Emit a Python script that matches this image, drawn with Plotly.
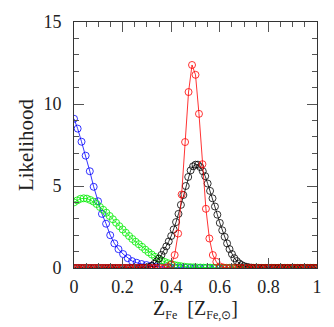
import plotly.graph_objects as go

# ---------------- data ----------------
blue_x = [0.0, 0.015, 0.031, 0.048, 0.065, 0.081, 0.099, 0.115, 0.132, 0.149, 0.166, 0.183,
          0.202, 0.221, 0.239, 0.258, 0.278, 0.298, 0.318, 0.338, 0.358, 0.378, 0.398, 0.418,
          0.438, 0.458, 0.478, 0.498, 0.518, 0.538, 0.558, 0.578, 0.598, 0.618, 0.638, 0.658,
          0.678, 0.698, 0.718, 0.738, 0.758, 0.778, 0.798, 0.818, 0.838, 0.858, 0.878, 0.898,
          0.918, 0.938, 0.958, 0.978, 0.998]
blue_y = [9.1, 8.5, 7.7, 6.85, 5.9, 4.95, 4.07, 3.3, 2.7, 2.0, 1.5, 1.15,
          0.85, 0.6, 0.42, 0.32, 0.24, 0.18, 0.13, 0.09, 0.06, 0.04, 0.03, 0.02,
          0.01, 0.01, 0.0, 0.0, 0.0, 0.0, 0.0, 0.0, 0.0, 0.0, 0.0, 0.0,
          0.0, 0.0, 0.0, 0.0, 0.0, 0.0, 0.0, 0.0, 0.0, 0.0, 0.0, 0.0,
          0.0, 0.0, 0.0, 0.0, 0.0]

green_x = [round(i / 75, 4) for i in range(76)]
green_y = [4.00, 4.12, 4.22, 4.25, 4.23, 4.15, 4.05, 3.90, 3.72, 3.55,
           3.37, 3.17, 2.97, 2.76, 2.55, 2.35, 2.15, 1.95, 1.77, 1.60,
           1.45, 1.29, 1.12, 0.96, 0.82, 0.68, 0.56, 0.46, 0.37, 0.29,
           0.23, 0.18, 0.14, 0.11, 0.08, 0.06, 0.05, 0.04, 0.03, 0.03,
           0.02, 0.02, 0.02, 0.02, 0.01, 0.01, 0.01, 0.01, 0.01, 0.01,
           0.01, 0.01, 0.01, 0.01, 0.01, 0.01, 0.01, 0.01, 0.01, 0.01,
           0.01, 0.01, 0.01, 0.01, 0.01, 0.01, 0.01, 0.01, 0.01, 0.01,
           0.01, 0.01, 0.01, 0.01, 0.01, 0.01]

black_x = [round(i * 0.01, 2) for i in range(101)]
black_y = [0.0] * 28 + [
    0.01, 0.02, 0.03, 0.06, 0.12, 0.25, 0.40, 0.58, 0.80, 1.05,
    1.32, 1.62, 1.95, 2.35, 2.80, 3.30, 3.85, 4.45, 5.00, 5.55,
    5.95, 6.20, 6.30, 6.30, 6.15, 5.90, 5.60, 5.15, 4.70, 4.25,
    3.75, 3.25, 2.75, 2.30, 1.90, 1.50, 1.15, 0.85, 0.60, 0.42,
    0.28, 0.18, 0.11, 0.07, 0.04, 0.02, 0.01] + [0.0] * 26

red_x = [round(i / 70, 4) for i in range(71)]
red_y = [0.0] * 27 + [
    0.05, 0.2, 0.79, 2.10, 4.48, 7.68, 10.73, 12.38, 11.78, 9.40,
    6.33, 3.61, 1.80, 0.79, 0.38, 0.10, 0.03] + [0.0] * 27

x_tickvals = [0, 0.2, 0.4, 0.6, 0.8, 1]
x_ticktext = ["0", "0.2", "0.4", "0.6", "0.8", "1"]
y_tickvals = [0, 5, 10, 15]
y_ticktext = ["0", "5", "10", "15"]

series = [
    ("blue", blue_x, blue_y, "#0000ff"),
    ("green", green_x, green_y, "#00ee00"),
    ("black", black_x, black_y, "#000000"),
    ("red", red_x, red_y, "#ff0000"),
]

fig = go.Figure()
for name, xs, ys, col in series:
    fig.add_trace(go.Scatter(
        x=xs, y=ys, mode="lines+markers", name=name,
        line=dict(color=col, width=0.8),
        marker=dict(symbol="circle-open", size=7, color=col, line=dict(width=0.8, color=col)),
        showlegend=False, hoverinfo="skip",
    ))

font_family = "Liberation Serif"
axis_common = dict(
    showgrid=False, zeroline=False, showline=True, linecolor="#333333", linewidth=1,
    mirror="ticks", ticks="inside", tickcolor="#555555", tickwidth=1, ticklen=10,
    tickfont=dict(family=font_family, size=18, color="#222222"),
    tickangle=0,
)

sub = "<sub><span style='font-size:12px'>{}</span></sub>"
x_title = "Z" + sub.format("Fe") + "  [Z" + sub.format("Fe,⊙") + "]"

fig.update_xaxes(
    range=[0, 1], tickvals=x_tickvals, ticktext=x_ticktext, ticklabelstandoff=2,
    minor=dict(dtick=0.05, tick0=0, ticks="inside", ticklen=5, tickcolor="#555555", tickwidth=1),
    title=dict(text=x_title, font=dict(family=font_family, size=20, color="#222222"), standoff=2),
    **axis_common,
)
fig.update_yaxes(
    range=[0, 15], tickvals=y_tickvals, ticktext=y_ticktext, ticklabelstandoff=8,
    minor=dict(dtick=1, tick0=0, ticks="inside", ticklen=5, tickcolor="#555555", tickwidth=1),
    title=dict(text="Likelihood", font=dict(family=font_family, size=21, color="#222222"), standoff=4),
    **axis_common,
)

fig.update_layout(
    width=334, height=327, autosize=False,
    margin=dict(l=74, r=12, t=20, b=59),
    paper_bgcolor="white", plot_bgcolor="white",
)

fig.write_html(
    "out.html",
    config={"displayModeBar": False, "staticPlot": True},
    post_script="document.body.style.margin='0';document.body.style.padding='0';document.body.style.overflow='hidden';",
)
